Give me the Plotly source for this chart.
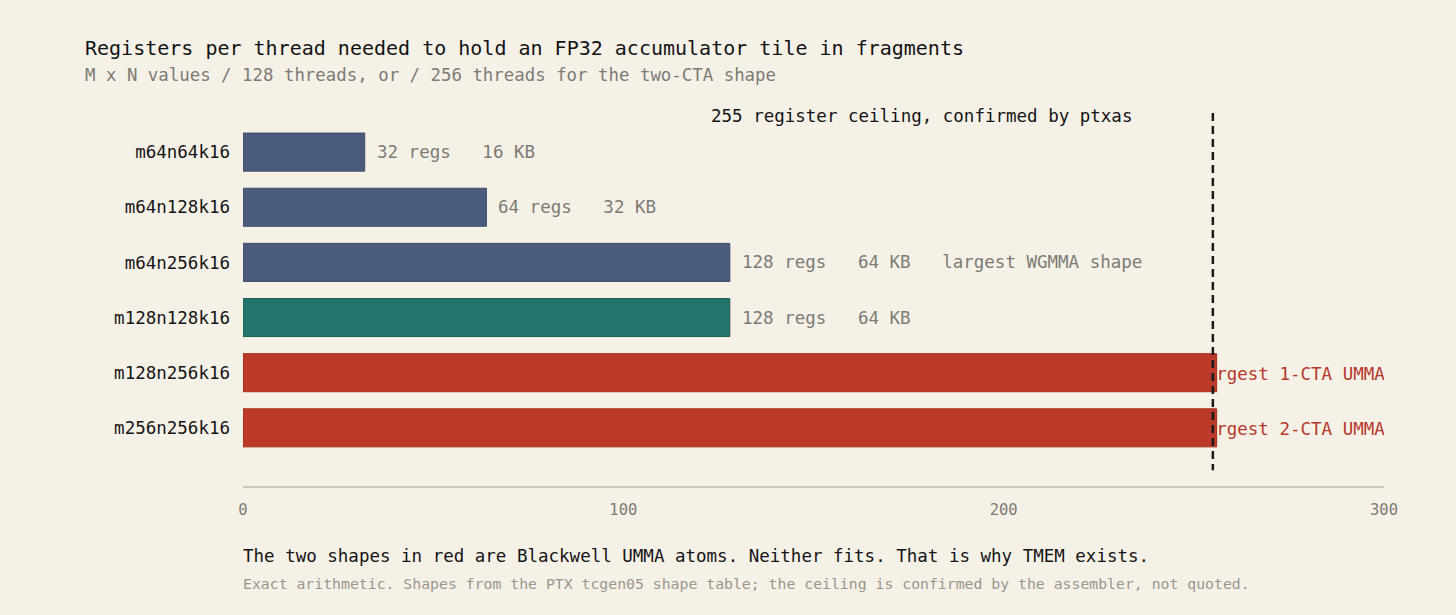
import plotly.graph_objects as go

shapes_names = ["m64n64k16", "m64n128k16", "m64n256k16", "m128n128k16", "m128n256k16", "m256n256k16"]
regs = [32, 64, 128, 128, 256, 256]
kb = [16, 32, 64, 64, 128, 128]
notes = ["", "", "largest WGMMA shape", "", "largest 1-CTA UMMA", "largest 2-CTA UMMA"]
bar_colors = ["#4a5b7b", "#4a5b7b", "#4a5b7b", "#23756b", "#bb3a28", "#bb3a28"]
edge_colors = ["#3d4d6b", "#3d4d6b", "#3d4d6b", "#1b5f56", "#a52d1d", "#a52d1d"]
ceiling = 255
x_ticks = [0, 100, 200, 300]

BG = "#f6f1e7"
GRAY = "#7d7b74"
FONT = "DejaVu Sans Mono"
NB = "\u00a0"

fig = go.Figure()
fig.add_trace(go.Bar(
    y=shapes_names, x=regs, orientation="h",
    marker=dict(color=bar_colors, line=dict(color=edge_colors, width=1)),
    width=0.69, hoverinfo="skip", showlegend=False,
))

annotations = []
shapes = []
for i, (name, r, k, n) in enumerate(zip(shapes_names, regs, kb, notes)):
    label = f"{r} regs{NB*3}{k} KB"
    if n:
        label += NB * 3 + n
    if r > ceiling:
        # label sits right-aligned at the axis end, underneath the bar
        shapes.append(dict(
            type="rect", xref="x", yref="y", x0=0, x1=301, y0=i - 0.3, y1=i + 0.3,
            line=dict(width=0), fillcolor="rgba(0,0,0,0)", layer="below",
            label=dict(text=label, textposition="middle right", padding=0,
                       font=dict(family=FONT, size=17.5, color="#b5382a")),
        ))
    else:
        annotations.append(dict(
            x=r, y=name, xref="x", yref="y", text=label, showarrow=False,
            xanchor="left", yanchor="middle", xshift=10,
            font=dict(family=FONT, size=17.5, color=GRAY),
        ))

shapes.append(dict(
    type="line", xref="x", yref="y", x0=ceiling, x1=ceiling, y0=-0.71, y1=5.77,
    line=dict(color="#1a1a1a", width=2.5, dash="8px,5px"), layer="above",
))

annotations += [
    dict(x=ceiling, y=-0.65, xref="x", yref="y", text="255 register ceiling, confirmed by ptxas",
         showarrow=False, xanchor="right", yanchor="middle", xshift=-79,
         font=dict(family=FONT, size=17.5, color="#141414")),
    dict(x=83, y=48, xref="paper", yref="paper", text="Registers per thread needed to hold an FP32 accumulator tile in fragments",
         showarrow=False, xanchor="left", yanchor="middle",
         font=dict(family=FONT, size=20, color="#141414")),
    dict(x=83, y=75, xref="paper", yref="paper", text="M x N values / 128 threads, or / 256 threads for the two-CTA shape",
         showarrow=False, xanchor="left", yanchor="middle",
         font=dict(family=FONT, size=17.4, color=GRAY)),
    dict(x=241, y=556, xref="paper", yref="paper", text="The two shapes in red are Blackwell UMMA atoms. Neither fits. That is why TMEM exists.",
         showarrow=False, xanchor="left", yanchor="middle",
         font=dict(family=FONT, size=17.5, color="#141414")),
    dict(x=241, y=583, xref="paper", yref="paper", text="Exact arithmetic. Shapes from the PTX tcgen05 shape table; the ceiling is confirmed by the assembler, not quoted.",
         showarrow=False, xanchor="left", yanchor="middle",
         font=dict(family=FONT, size=14.8, color="#9a968c")),
]

# convert pixel positions of paper annotations to paper coordinates
L, R, T, B = 243, 72, 113, 129
W, H = 1456, 615
pw, ph = W - L - R, H - T - B
for a in annotations:
    if a["xref"] == "paper":
        a["x"] = (a["x"] - L) / pw
        a["y"] = (H - B - a["y"]) / ph

fig.update_layout(
    width=W, height=H,
    margin=dict(l=L, r=R, t=T, b=B, pad=0),
    paper_bgcolor=BG, plot_bgcolor=BG,
    xaxis=dict(range=[0, 300], tickvals=x_ticks, ticktext=[str(t) for t in x_ticks],
               showgrid=False, zeroline=False, showline=True, linecolor="#cfc6b4", linewidth=1.5,
               ticks="", ticklen=0, tickfont=dict(family=FONT, size=15.5, color=GRAY),
               ticklabelstandoff=9),
    yaxis=dict(categoryorder="array", categoryarray=shapes_names, range=[6.0545, -0.709],
               showgrid=False, zeroline=False, showline=False, ticks="",
               tickfont=dict(family=FONT, size=17.5, color="#141414"), ticklabelstandoff=12),
    annotations=annotations, shapes=shapes,
    font=dict(family=FONT),
)

fig.write_html(
    "out.html",
    config={"displayModeBar": False},
    post_script=f"document.body.style.margin='0';document.body.style.background='{BG}';",
)
